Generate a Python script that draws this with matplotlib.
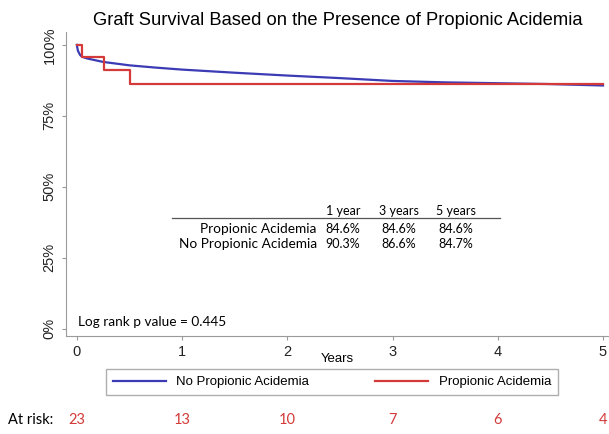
import numpy as np
import matplotlib.pyplot as plt
from matplotlib.transforms import blended_transform_factory

# Kaplan-Meier curves
t_no = [0, 0.01, 0.03, 0.05, 0.1, 0.25, 0.5, 0.75, 1, 1.5, 2, 2.5, 3, 3.5, 4, 4.5, 5]
s_no = [100, 98, 96.5, 95.8, 95.2, 94.0, 92.8, 92.0, 91.3, 90.2, 89.2, 88.3, 87.3, 86.8, 86.5, 86.2, 85.7]

t_pa = [0, 0.05, 0.26, 0.51, 5.0]
s_pa = [100, 95.7, 91.3, 86.3, 86.3]

yticks = [0, 25, 50, 75, 100]
ytick_labels = ["0%", "25%", "50%", "75%", "100%"]
xticks = [0, 1, 2, 3, 4, 5]

at_risk = [23, 13, 10, 7, 6, 4]

table_cols = ["1 year", "3 years", "5 years"]
table_rows = ["Propionic Acidemia", "No Propionic Acidemia"]
table_vals = [["84.6%", "84.6%", "84.6%"],
              ["90.3%", "86.6%", "84.7%"]]

blue = "#3b3bb5"
red = "#d43a3a"
gray = "#9a9a9a"

plt.rcParams['font.family'] = ['Liberation Sans', 'DejaVu Sans']

fig = plt.figure(figsize=(6.09, 4.34), dpi=100)
ax = fig.add_axes([0.108, 0.226, 0.892, 0.70])

ax.plot(t_no, s_no, color=blue, lw=1.6, label="No Propionic Acidemia")
ax.step(t_pa, s_pa, where='post', color=red, lw=1.6, label="Propionic Acidemia")

ax.set_xlim(-0.105, 5.057)
ax.set_ylim(-2.5, 104.5)
ax.set_yticks(yticks)
ax.set_yticklabels(ytick_labels, rotation=90, va='center', fontsize=10.5)
ax.set_xticks(xticks)
ax.set_xticklabels([str(x) for x in xticks], fontsize=10.5)
ax.tick_params(colors=gray, labelcolor='#222222', length=3)
ax.set_xlabel("Years", fontsize=9.5, labelpad=-4)

for s in ['top', 'right']:
    ax.spines[s].set_visible(False)
for s in ['left', 'bottom']:
    ax.spines[s].set_color(gray)

ax.set_title("Graft Survival Based on the Presence of Propionic Acidemia", fontsize=13.2, pad=5)

# survival table inside the plot
tfont = ['Lato', 'DejaVu Sans']
col_x = [2.53, 3.06, 3.6]
ax.text(col_x[0], 41.5, table_cols[0], ha='center', va='center', fontsize=9, family=tfont)
ax.text(col_x[1], 41.5, table_cols[1], ha='center', va='center', fontsize=9, family=tfont)
ax.text(col_x[2], 41.5, table_cols[2], ha='center', va='center', fontsize=9, family=tfont)
ax.plot([0.9, 4.02], [39.0, 39.0], color='#555555', lw=0.9)
for i, row in enumerate(table_rows):
    y = 35.3 - i * 5.6
    ax.text(2.28, y, row, ha='right', va='center', fontsize=9.8, family=tfont)
    for j, v in enumerate(table_vals[i]):
        ax.text(col_x[j], y, v, ha='center', va='center', fontsize=9, family=tfont)

ax.text(0.01, 2.5, "Log rank p value = 0.445", ha='left', va='center', fontsize=9.8, family=tfont)

fig.legend(loc='center', bbox_to_anchor=(332 / 609, 1 - 382 / 434), ncol=2,
           fontsize=9.5, frameon=True, fancybox=False, edgecolor=gray,
           handlelength=4, columnspacing=5, borderpad=0.5)

tr = blended_transform_factory(ax.transData, fig.transFigure)
fig.text(8 / 609, 1 - 420 / 434, "At risk:", ha='left', va='center', fontsize=10.5, family=tfont)
for x, n in zip(xticks, at_risk):
    ax.text(x, 1 - 420 / 434, str(n), transform=tr, ha='center', va='center',
            fontsize=10.5, color=red, family=tfont)

fig.savefig("out.png", dpi=100)
